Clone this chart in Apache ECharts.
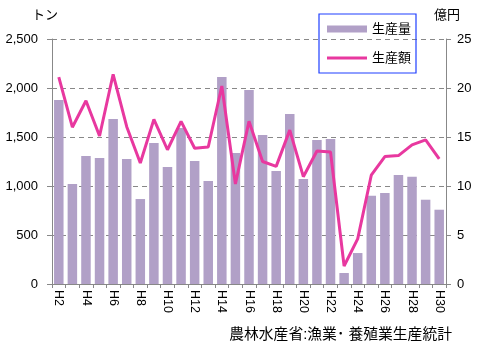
<!DOCTYPE html>
<html>
<head>
<meta charset="utf-8">
<script src="https://cdn.jsdelivr.net/npm/echarts@6/dist/echarts.min.js"></script>
<style>html,body{margin:0;padding:0;background:#fff}#c{width:480px;height:360px}</style>
</head>
<body>
<div id="c"></div>
<script>
const categories = ['H2','H3','H4','H5','H6','H7','H8','H9','H10','H11','H12','H13','H14','H15','H16','H17','H18','H19','H20','H21','H22','H23','H24','H25','H26','H27','H28','H29','H30'];
const volume = [1878,1020,1306,1286,1684,1276,867,1439,1194,1592,1255,1051,2112,1337,1980,1520,1153,1735,1071,1469,1480,112,316,901,929,1112,1095,860,758];
const value = [21.1,16.0,18.7,15.1,21.4,16.05,12.35,16.8,13.7,16.6,13.85,13.98,20.2,10.2,16.6,12.5,12.0,15.7,10.95,13.57,13.47,1.84,4.6,11.1,13.0,13.1,14.2,14.7,12.76];
const leftTicks = [0,500,1000,1500,2000,2500];
const rightTicks = [0,5,10,15,20,25];

const FONT = '"Liberation Sans", Arial, "Noto Sans CJK JP", sans-serif';
const chart = echarts.init(document.getElementById('c'), null, {renderer:'canvas'});
chart.setOption({
  animation: false,
  backgroundColor: '#fff',
  textStyle: {fontFamily: FONT},
  grid: {left: 52, right: 34, top: 39, bottom: 76},
  legend: {
    orient: 'vertical', left: 319, top: 14,
    padding: [8, 5, 8, 8],
    itemWidth: 40, itemHeight: 7, itemGap: 15,
    borderColor: '#1f3fff', borderWidth: 1.2,
    textStyle: {fontSize: 13, color: '#000', fontFamily: FONT, lineHeight: 14},
    data: [
      {name:'生産量', icon:'rect'},
      {name:'生産額', icon:'path://M0,0H40V3H0Z', itemStyle:{color:'#E8389F'}}
    ]
  },
  graphic: [
    {type:'text', left: 32, top: 9, style:{text:'トン', fontSize: 13, fill:'#000', fontFamily: FONT}},
    {type:'text', left: 434, top: 9, style:{text:'億円', fontSize: 13, fill:'#000', fontFamily: FONT}},
    {type:'text', right: 28, top: 328, style:{text:'農林水産省:漁業･ 養殖業生産統計', fontSize: 14.8, fill:'#000', fontFamily: FONT}}
  ],
  xAxis: {
    type: 'category', data: categories,
    axisLine: {lineStyle: {color: '#888'}},
    axisTick: {show: true, interval: 0, alignWithLabel: false, length: 4, lineStyle:{color:'#888'}},
    axisLabel: {interval: 1, rotate: -90, fontSize: 12.5, color: '#000', margin: 6, fontFamily: FONT}
  },
  yAxis: [
    {type:'value', min: leftTicks[0], max: leftTicks[leftTicks.length-1], interval: 500,
     axisLine:{show:true, lineStyle:{color:'#888'}},
     axisTick:{show:true, length: 5, lineStyle:{color:'#888'}},
     axisLabel:{color:'#000', fontSize: 13, margin: 14, fontFamily: FONT,
       formatter: v => v.toLocaleString('en-US')},
     splitLine:{show:true, lineStyle:{color:'#888', type:[5,4]}}},
    {type:'value', min: rightTicks[0], max: rightTicks[rightTicks.length-1], interval: 5,
     axisLine:{show:true, lineStyle:{color:'#888'}},
     axisTick:{show:true, length: 5, lineStyle:{color:'#888'}},
     axisLabel:{color:'#000', fontSize: 13, margin: 11, fontFamily: FONT},
     splitLine:{show:false}}
  ],
  series: [
    {name:'生産量', type:'bar', data: volume, yAxisIndex: 0, barWidth: 9.5,
     itemStyle:{color:'#B1A0C7'}},
    {name:'生産額', type:'line', data: value, yAxisIndex: 1, symbol:'none', showSymbol:false,
     lineStyle:{color:'#E8389F', width: 3}, itemStyle:{color:'#E8389F'}}
  ]
});
</script>
</body>
</html>
